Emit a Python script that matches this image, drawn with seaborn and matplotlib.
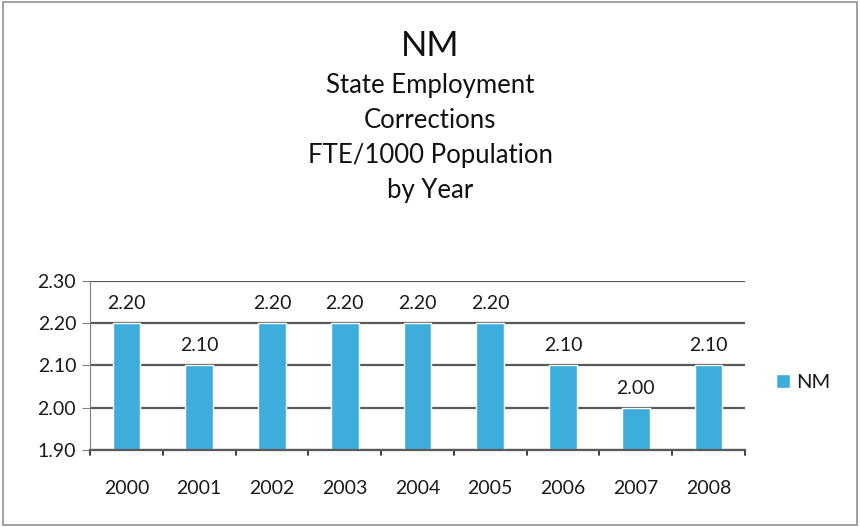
import pandas as pd
import seaborn as sns
import matplotlib.pyplot as plt

years = ['2000', '2001', '2002', '2003', '2004', '2005', '2006', '2007', '2008']
fte_per_1000 = [2.20, 2.10, 2.20, 2.20, 2.20, 2.20, 2.10, 2.00, 2.10]
series_name = 'NM'
title_lines = ['State Employment', 'Corrections', 'FTE/1000 Population', 'by Year']
y_ticks = [1.90, 2.00, 2.10, 2.20, 2.30]

sns.set_style('white')
plt.rcParams['font.family'] = ['Lato', 'DejaVu Sans']

df = pd.DataFrame({'year': years, 'fte': fte_per_1000, 'state': series_name})

fig = plt.figure(figsize=(8.6, 5.27), dpi=100)
ax = fig.add_axes([0.1047, 0.146, 0.7616, 0.321])

sns.barplot(data=df, x='year', y='fte', hue='state', palette=['#3DAEDB'],
            width=0.38, ax=ax, saturation=1)

ax.set_ylim(1.90, 2.30)
ax.set_yticks(y_ticks)
ax.set_yticklabels([f'{v:.2f}' for v in y_ticks])
ax.set_xlim(-0.5, len(years) - 0.5)
ax.yaxis.grid(True, color='#5a5a5a', linewidth=1.6)
ax.set_axisbelow(True)
for s in ['top', 'right']:
    ax.spines[s].set_visible(False)
ax.spines['left'].set_color('#808080')
ax.spines['bottom'].set_color('#5a5a5a')
ax.spines['bottom'].set_linewidth(1.6)
ax.set_xlabel('')
ax.set_ylabel('')
ax.tick_params(axis='y', left=True, length=6, color='#808080', labelsize=14, pad=4,
               labelcolor='#1a1a1a')
ax.tick_params(axis='x', bottom=False, labelsize=14, pad=18, labelcolor='#1a1a1a')
# tick marks between categories
for b in range(len(years) + 1):
    ax.plot([b - 0.5, b - 0.5], [1.90, 1.888], color='#303030', lw=1.3, clip_on=False)

for c in ax.containers:
    ax.bar_label(c, fmt='%.2f', padding=8, fontsize=14, color='#1a1a1a')

leg = ax.legend(loc='center left', bbox_to_anchor=(1.02, 0.4), frameon=False,
                fontsize=14.5, handlelength=0.7, handleheight=0.7, handletextpad=0.3)
for t in leg.get_texts():
    t.set_color('#1a1a1a')

fig.text(0.5, 0.913, 'NM', ha='center', va='center', fontsize=25, color='#111111')
for i, line in enumerate(title_lines):
    fig.text(0.5, 0.838 - i * 0.0665, line, ha='center', va='center', fontsize=18.5,
             color='#111111')

border = plt.Rectangle((0.003, 0.004), 0.994, 0.992, transform=fig.transFigure,
                       fill=False, edgecolor='#909090', linewidth=1.2)
fig.patches.append(border)

fig.savefig('out.png', dpi=100)
